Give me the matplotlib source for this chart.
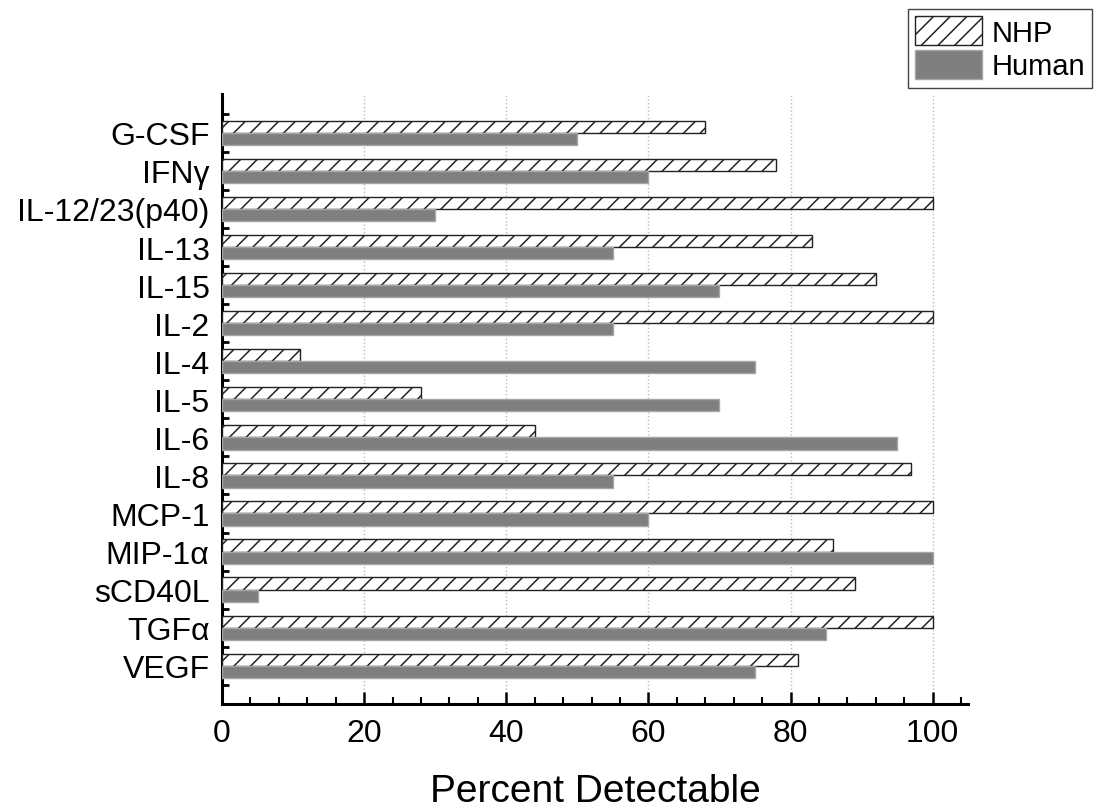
import matplotlib
matplotlib.use('Agg')
import matplotlib.pyplot as plt
from matplotlib.ticker import MultipleLocator, FixedLocator
import numpy as np

plt.rcParams['font.family'] = ['Liberation Sans', 'DejaVu Sans']
plt.rcParams['hatch.linewidth'] = 1.1

# cytokines, top to bottom
cytokines = ['G-CSF', 'IFNγ', 'IL-12/23(p40)', 'IL-13', 'IL-15', 'IL-2', 'IL-4',
             'IL-5', 'IL-6', 'IL-8', 'MCP-1', 'MIP-1α', 'sCD40L', 'TGFα', 'VEGF']
nhp = [68, 78, 100, 83, 92, 100, 11, 28, 44, 97, 100, 86, 89, 100, 81]
human = [50, 60, 30, 55, 70, 55, 75, 70, 95, 55, 60, 100, 5, 85, 75]

fig = plt.figure(figsize=(10.99, 8.12), dpi=100)
ax = fig.add_axes([0.202, 0.132, 0.679, 0.751])

y = np.arange(len(cytokines))
h = 0.32
ax.barh(y - h / 2, nhp, height=h, color='white', edgecolor='#222222',
        hatch='//', linewidth=1.0, label='NHP', zorder=3)
ax.barh(y + h / 2, human, height=h, color='#7f7f7f', edgecolor='#a6a6a6',
        linewidth=1.0, label='Human', zorder=3)

ax.set_xlim(0, 105)
ax.set_ylim(15.0, -1.02)

ax.set_yticks(y)
ax.set_yticklabels(cytokines, fontsize=23)
ax.yaxis.set_minor_locator(FixedLocator(np.arange(-0.5, len(cytokines), 1.0)))
ax.tick_params(axis='y', which='major', length=0, pad=9)
ax.tick_params(axis='y', which='minor', direction='in', length=5, width=2)

ax.xaxis.set_major_locator(MultipleLocator(20))
ax.xaxis.set_minor_locator(MultipleLocator(4))
ax.tick_params(axis='x', which='major', direction='in', length=9, width=1.8,
               labelsize=23, pad=10)
ax.tick_params(axis='x', which='minor', direction='in', length=5, width=1.5)

ax.grid(axis='x', which='major', linestyle=':', color='#bbbbbb', linewidth=1.0, zorder=0)

for s in ['top', 'right']:
    ax.spines[s].set_visible(False)
for s in ['left', 'bottom']:
    ax.spines[s].set_linewidth(2.2)

ax.set_xlabel('Percent Detectable', fontsize=28, labelpad=18)

fig.legend(loc='upper right', bbox_to_anchor=(0.999, 0.995), fontsize=21,
           frameon=True, fancybox=False, edgecolor='#444444', framealpha=1,
           handlelength=2.3, handleheight=1.15, labelspacing=0.12,
           borderpad=0.25, handletextpad=0.3, borderaxespad=0.2)

fig.savefig('out.png', dpi=100)
